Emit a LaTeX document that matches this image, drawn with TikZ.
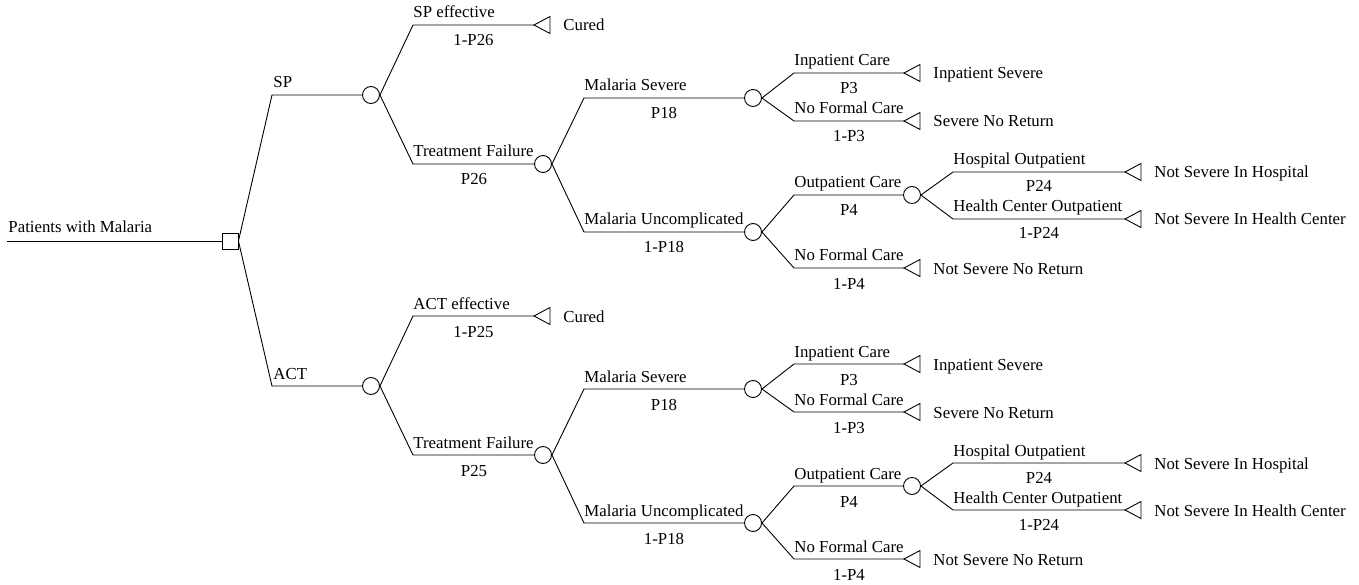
\documentclass[tikz,border=0pt]{standalone}
\usepackage{fontspec}
\setmainfont{Liberation Serif}
\tikzset{
  chance/.style={circle, draw, minimum size=17pt, inner sep=0pt},
  decision/.style={rectangle, draw, minimum size=16pt, inner sep=0pt},
  lab/.style={inner sep=0pt, anchor=base west},
  prob/.style={inner sep=0pt, anchor=base},
  endlab/.style={inner sep=0pt, anchor=base west},
  termtri/.style={line width=0.9pt},
}
\newcommand{\termend}[4]{%
  \coordinate (#1) at (#2,#3);
  \draw[termtri] (#1) -- ++(16,-8.5) -- ++(0,17) -- cycle;
  \node[endlab] (#1-l) at (#2+29,#3+6) {#4};
}
\begin{document}
\begin{tikzpicture}[x=1pt,y=-1pt, line width=0.9pt,
  every node/.append style={font=\fontsize{16.8}{19}\selectfont}]
\useasboundingbox (0,0) rectangle (1359,585);
\node[decision] (root) at (230,241) {};
\coordinate (start) at (7,241);
\draw (start) -- (root);
\node[lab] (rootl) at (8,233) {Patients with Malaria};

\foreach \t/\o/\eff/\q in {SP/0/SP effective/P26, ACT/291/ACT effective/P25}{
\begin{scope}[shift={(0,\o)}]
  % treatment branch
  \node[chance] (\t-a) at (371,95) {};
  \coordinate (\t-ak) at (272,95);
  \draw (root.east) -- (\t-ak) -- (\t-a);
  \node[lab] at (273,88) {\t};
  % effective
  \coordinate (\t-bk) at (413,25);
  \termend{\t-bt}{534}{25}{Cured}
  \draw (\t-a.east) -- (\t-bk) -- (\t-bt);
  \node[lab] at (413,18) {\eff};
  \node[prob] at (473.5,46) {1-\q};
  % treatment failure
  \node[chance] (\t-c) at (543,164) {};
  \coordinate (\t-ck) at (413,164);
  \draw (\t-a.east) -- (\t-ck) -- (\t-c);
  \node[lab] at (413,157) {Treatment Failure};
  \node[prob] at (474,185) {\q};
  % malaria severe
  \node[chance] (\t-d) at (753,98) {};
  \coordinate (\t-dk) at (584,98);
  \draw (\t-c.east) -- (\t-dk) -- (\t-d);
  \node[lab] at (584,91) {Malaria Severe};
  \node[prob] at (664,119) {P18};
  % malaria uncomplicated
  \node[chance] (\t-e) at (753,232) {};
  \coordinate (\t-ek) at (584,232);
  \draw (\t-c.east) -- (\t-ek) -- (\t-e);
  \node[lab] at (584,225) {Malaria Uncomplicated};
  \node[prob] at (664,253) {1-P18};
  % inpatient care
  \coordinate (\t-gk) at (794,73);
  \termend{\t-gt}{904}{73}{Inpatient Severe}
  \draw (\t-d.east) -- (\t-gk) -- (\t-gt);
  \node[lab] at (794,66) {Inpatient Care};
  \node[prob] at (849,94) {P3};
  % no formal care (severe)
  \coordinate (\t-hk) at (794,121);
  \termend{\t-ht}{904}{121}{Severe No Return}
  \draw (\t-d.east) -- (\t-hk) -- (\t-ht);
  \node[lab] at (794,114) {No Formal Care};
  \node[prob] at (849,142) {1-P3};
  % outpatient care
  \node[chance] (\t-f) at (912,195) {};
  \coordinate (\t-fk) at (794,195);
  \draw (\t-e.east) -- (\t-fk) -- (\t-f);
  \node[lab] at (794,188) {Outpatient Care};
  \node[prob] at (849,216) {P4};
  % no formal care (uncomplicated)
  \coordinate (\t-ik) at (794,268);
  \termend{\t-it}{904}{268}{Not Severe No Return}
  \draw (\t-e.east) -- (\t-ik) -- (\t-it);
  \node[lab] at (794,261) {No Formal Care};
  \node[prob] at (849,289) {1-P4};
  % hospital outpatient
  \coordinate (\t-jk) at (953,172);
  \termend{\t-jt}{1125}{172}{Not Severe In Hospital}
  \draw (\t-f.east) -- (\t-jk) -- (\t-jt);
  \node[lab] at (953,165) {Hospital Outpatient};
  \node[prob] at (1039,192) {P24};
  % health center outpatient
  \coordinate (\t-kk) at (953,219);
  \termend{\t-kt}{1125}{219}{Not Severe In Health Center}
  \draw (\t-f.east) -- (\t-kk) -- (\t-kt);
  \node[lab] at (953,212) {Health Center Outpatient};
  \node[prob] at (1039,239) {1-P24};
\end{scope}
}
\end{tikzpicture}
\end{document}
